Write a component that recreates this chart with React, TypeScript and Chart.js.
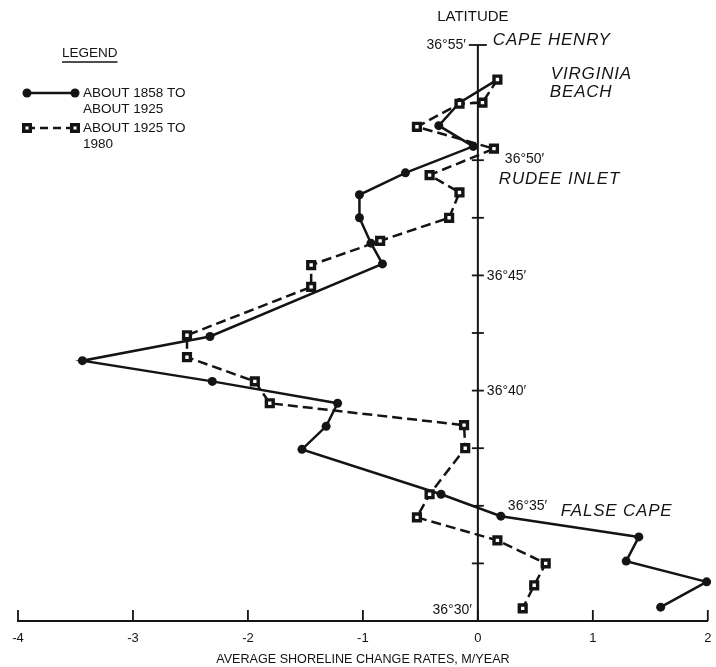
import React, { useEffect, useRef } from "react";
import { Chart, registerables } from "chart.js";

Chart.register(...registerables);

// X axis (average shoreline change rate, m/year)
const xTickValues = [-4, -3, -2, -1, 0, 1, 2];
const xTickLabels = ["-4", "-3", "-2", "-1", "0", "1", "2"];

// Latitude axis, minutes past 36°
const latMin = 30;
const latMax = 55;
const latTickMinutes = [32.5, 35, 37.5, 40, 42.5, 45, 47.5, 50, 52.5, 55];
const latLabelMinutes = [55, 50, 45, 40, 35, 30];
const latLabels = ["36°55′", "36°50′", "36°45′", "36°40′", "36°35′", "36°30′"];

// Series: about 1858 to about 1925 (solid, circles)
const rate1858 = [0.17, -0.16, -0.34, -0.04, -0.63, -1.03, -1.03, -0.93, -0.83, -2.33, -3.44, -2.31, -1.22, -1.32, -1.53, -0.32, 0.2, 1.4, 1.29, 1.99, 1.59];
const lat1858 = [53.5, 52.5, 51.5, 50.6, 49.45, 48.5, 47.5, 46.4, 45.5, 42.35, 41.3, 40.4, 39.45, 38.45, 37.45, 35.5, 34.55, 33.65, 32.6, 31.7, 30.6];

// Series: about 1925 to 1980 (dashed, squares)
const rate1925 = [0.17, 0.04, -0.16, -0.53, 0.14, -0.42, -0.16, -0.25, -0.85, -1.45, -1.45, -2.53, -2.53, -1.94, -1.81, -0.12, -0.11, -0.42, -0.53, 0.17, 0.59, 0.49, 0.39];
const lat1925 = [53.5, 52.5, 52.45, 51.45, 50.5, 49.35, 48.6, 47.5, 46.5, 45.45, 44.5, 42.4, 41.45, 40.4, 39.45, 38.5, 37.5, 35.5, 34.5, 33.5, 32.5, 31.55, 30.55];

const seriesNames = [["ABOUT 1858 TO", "ABOUT 1925"], ["ABOUT 1925 TO", "1980"]];

const INK = "#141414";
const FONT = '"Liberation Sans", Arial, Helvetica, sans-serif';

const overlay = {
  id: "overlay",
  beforeDraw(chart: any) {
    const { ctx } = chart;
    ctx.save();
    ctx.fillStyle = "#ffffff";
    ctx.fillRect(0, 0, chart.width, chart.height);
    ctx.restore();
  },
  beforeDatasetsDraw(chart: any) {
    const { ctx, scales } = chart;
    const xs = scales.x;
    const ys = scales.y;
    const x0 = xs.getPixelForValue(0);
    const yTop = ys.getPixelForValue(latMax);
    const yBot = ys.getPixelForValue(latMin);
    ctx.save();
    ctx.strokeStyle = INK;
    ctx.lineWidth = 2;
    ctx.beginPath();
    ctx.moveTo(x0, yTop);
    ctx.lineTo(x0, yBot);
    ctx.stroke();
    ctx.lineWidth = 1.8;
    latTickMinutes.forEach((m) => {
      const y = ys.getPixelForValue(m);
      const half = m === latMax ? 9 : 6;
      ctx.beginPath();
      ctx.moveTo(x0 - half, y);
      ctx.lineTo(x0 + half, y);
      ctx.stroke();
    });
    // upward ticks and labels on x axis
    ctx.fillStyle = INK;
    ctx.font = `13px ${FONT}`;
    ctx.textAlign = "center";
    ctx.textBaseline = "middle";
    xTickValues.forEach((v, i) => {
      const x = xs.getPixelForValue(v);
      ctx.beginPath();
      ctx.moveTo(x, yBot);
      ctx.lineTo(x, yBot - 11);
      ctx.stroke();
      ctx.fillText(xTickLabels[i], x, yBot + 17);
    });
    ctx.restore();
  },
  afterDraw(chart: any) {
    const { ctx, scales } = chart;
    const xs = scales.x;
    const ys = scales.y;
    const x0 = xs.getPixelForValue(0);
    ctx.save();
    ctx.fillStyle = INK;
    ctx.textBaseline = "middle";

    // title of latitude axis
    ctx.font = `15px ${FONT}`;
    ctx.textAlign = "center";
    ctx.fillText("LATITUDE", x0 - 5, 17);

    // latitude labels
    ctx.font = `14px ${FONT}`;
    latLabelMinutes.forEach((m, i) => {
      const y = ys.getPixelForValue(m);
      if (m === 55) {
        ctx.textAlign = "right";
        ctx.fillText(latLabels[i], x0 - 12, y);
      } else if (m === 30) {
        ctx.textAlign = "right";
        ctx.fillText(latLabels[i], x0 - 6, y - 11);
      } else if (m === 50) {
        ctx.textAlign = "left";
        ctx.fillText(latLabels[i], x0 + 27, y - 1);
      } else if (m === 35) {
        ctx.textAlign = "left";
        ctx.fillText(latLabels[i], x0 + 30, y);
      } else {
        ctx.textAlign = "left";
        ctx.fillText(latLabels[i], x0 + 9, y + 1);
      }
    });

    // place names
    ctx.font = `italic 17px ${FONT}`;
    ctx.textAlign = "left";
    (ctx as any).letterSpacing = "0.8px";
    const y55 = ys.getPixelForValue(55);
    const y50 = ys.getPixelForValue(50);
    const y35 = ys.getPixelForValue(35);
    ctx.fillText("CAPE HENRY", x0 + 15, y55 - 5);
    ctx.fillText("VIRGINIA", x0 + 73, y55 + 29);
    ctx.fillText("BEACH", x0 + 72, y55 + 47);
    ctx.fillText("RUDEE INLET", x0 + 21, y50 + 19);
    ctx.fillText("FALSE CAPE", x0 + 83, y35 + 5);
    (ctx as any).letterSpacing = "0px";

    // legend
    ctx.font = `13.5px ${FONT}`;
    ctx.textAlign = "left";
    const lx = 62;
    ctx.fillText("LEGEND", lx, 53);
    const lw = ctx.measureText("LEGEND").width;
    ctx.lineWidth = 1.5;
    ctx.strokeStyle = INK;
    ctx.beginPath();
    ctx.moveTo(lx, 62);
    ctx.lineTo(lx + lw, 62);
    ctx.stroke();

    const drawSample = (y: number, dashed: boolean) => {
      ctx.save();
      ctx.lineWidth = 2.5;
      ctx.strokeStyle = INK;
      if (dashed) ctx.setLineDash([8, 5]);
      ctx.beginPath();
      ctx.moveTo(27, y);
      ctx.lineTo(75, y);
      ctx.stroke();
      ctx.setLineDash([]);
      [27, 75].forEach((px) => {
        if (dashed) {
          ctx.fillStyle = INK;
          ctx.fillRect(px - 5, y - 5, 10, 10);
          ctx.fillStyle = "#fff";
          ctx.fillRect(px - 1.5, y - 1.5, 3, 3);
        } else {
          ctx.fillStyle = INK;
          ctx.beginPath();
          ctx.arc(px, y, 4.5, 0, Math.PI * 2);
          ctx.fill();
        }
      });
      ctx.restore();
    };
    drawSample(93, false);
    drawSample(128, true);
    ctx.fillText(seriesNames[0][0], 83, 93);
    ctx.fillText(seriesNames[0][1], 83, 109);
    ctx.fillText(seriesNames[1][0], 83, 128);
    ctx.fillText(seriesNames[1][1], 83, 144);
    ctx.restore();
  },
};

export default function App() {
  const ref = useRef<HTMLCanvasElement | null>(null);
  useEffect(() => {
    if (!ref.current) return;
    const chart = new Chart(ref.current, {
      type: "scatter",
      data: {
        datasets: [
          {
            label: seriesNames[0].join(" "),
            data: rate1858.map((x, i) => ({ x, y: lat1858[i] })),
            order: 1,
            showLine: true,
            borderColor: INK,
            backgroundColor: INK,
            borderWidth: 2.5,
            pointStyle: "circle",
            pointRadius: 4.5,
            pointBorderWidth: 0,
            pointBackgroundColor: INK,
            clip: false,
          },
          {
            label: seriesNames[1].join(" "),
            data: rate1925.map((x, i) => ({ x, y: lat1925[i] })),
            order: 0,
            showLine: true,
            borderColor: INK,
            borderWidth: 2.5,
            borderDash: [10, 5],
            pointStyle: "rect",
            pointRadius: 4.8,
            pointBorderWidth: 3.4,
            pointBorderColor: INK,
            pointBackgroundColor: "#ffffff",
            clip: false,
          },
        ],
      },
      options: {
        animation: false,
        responsive: false,
        maintainAspectRatio: false,
        devicePixelRatio: 1,
        layout: { padding: { left: 18, right: 5, top: 45, bottom: 0 } },
        plugins: {
          legend: { display: false },
          tooltip: { enabled: false },
        },
        font: { family: FONT },
        scales: {
          x: {
            type: "linear",
            min: -4,
            max: 2,
            afterBuildTicks: (scale: any) => {
              scale.ticks = xTickValues.map((v) => ({ value: v }));
            },
            afterFit: (scale: any) => {
              scale.height = 46;
            },
            ticks: { display: false },
            grid: { display: false, drawTicks: false },
            border: { display: true, color: INK, width: 2 },
            title: {
              display: true,
              text: "AVERAGE SHORELINE CHANGE RATES, M/YEAR",
              color: INK,
              font: { family: FONT, size: 12.6 },
              padding: { top: 0, bottom: 0 },
            },
          },
          y: {
            type: "linear",
            min: latMin,
            max: latMax,
            display: false,
          },
        },
      } as any,
      plugins: [overlay],
    });
    return () => chart.destroy();
  }, []);
  return (
    <div style={{ position: "absolute", left: 0, top: 0, width: 716, height: 667 }}>
      <canvas ref={ref} width={716} height={667} style={{ display: "block", width: 716, height: 667 }} />
    </div>
  );
}
